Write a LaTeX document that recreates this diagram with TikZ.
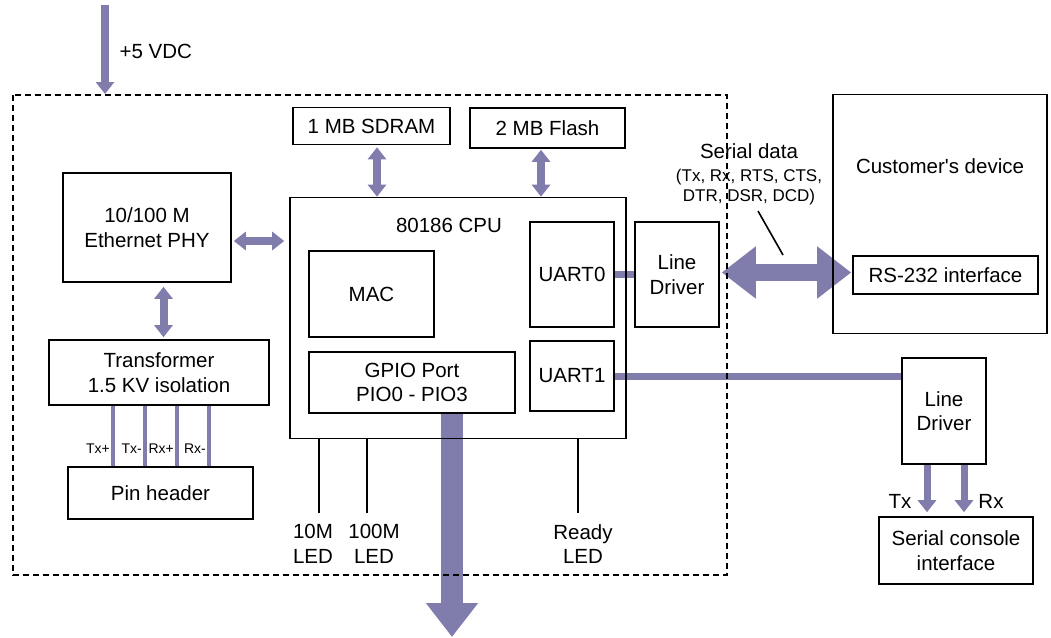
\documentclass[tikz,border=0pt]{standalone}
\usepackage{fontspec}
\setmainfont{Liberation Sans}
\usetikzlibrary{arrows.meta}
\usetikzlibrary{positioning}
\usetikzlibrary{backgrounds}
\definecolor{buscolor}{RGB}{128,124,172}

\begin{document}
\begin{tikzpicture}[x=1pt, y=-1pt, font=\fontsize{20.5}{24.5}\selectfont,
    box/.style={draw, line width=1.6pt, inner sep=0pt, align=center},
    bus/.style={buscolor, line width=8pt, {Triangle[width=18pt,length=12pt]}-{Triangle[width=18pt,length=12pt]}},
    busout/.style={buscolor, line width=8pt, -{Triangle[width=18pt,length=12pt]}},
    link/.style={buscolor, line width=7pt},
    pinwire/.style={buscolor, line width=4.5pt},
    pinlbl/.style={font=\fontsize{14}{16}\selectfont, inner sep=0pt, anchor=east},
    ledwire/.style={line width=1.6pt}
]
    \useasboundingbox (0,0) rectangle (1051,637);

    % ---- Notes ----
    % pixel coordinates, y pointing down

    % Memory
    \node [box, minimum width=157, minimum height=37] (sdram) at (371.5,126) {1 MB SDRAM};
    \node [box, minimum width=155, minimum height=40] (flash) at (547.5,128) {2 MB Flash};

    % CPU and its blocks
    \node [box, minimum width=336, minimum height=241] (cpu) at (458,318) {};
    \node (cpulbl) at (449,225) {80186 CPU};
    \node [box, minimum width=125, minimum height=86] (mac) at (371.5,294) {MAC};
    \node [box, minimum width=84, minimum height=105] (uart0) at (572,274.5) {UART0};
    \node [box, minimum width=84, minimum height=70] (uart1) at (572,376) {UART1};
    \node [box, minimum width=206, minimum height=61] (gpio) at (412,382.5) {GPIO Port\\PIO0 - PIO3};

    % Ethernet side
    \node [box, minimum width=168, minimum height=109] (phy) at (147,227.5) {10/100 M\\Ethernet PHY};
    \node [box, minimum width=220, minimum height=65] (xfmr) at (159,372.5) {Transformer\\1.5 KV isolation};
    \node [box, minimum width=185, minimum height=52] (pins) at (160.5,493) {Pin header};

    % Serial side
    \node [box, minimum width=84, minimum height=105] (ldzero) at (677,274.5) {Line\\Driver};
    \node [box, minimum width=214, minimum height=239] (cust) at (940,214) {};
    \node (custlbl) at (940,166) {Customer\textquotesingle s device};
    \node [box, minimum width=185, minimum height=38] (rs) at (945.5,275) {RS-232 interface};
    \node [box, minimum width=84, minimum height=106] (ldone) at (944,411) {Line\\Driver};
    \node [box, minimum width=154, minimum height=67] (console) at (956,550.5) {Serial console\\interface};

    \node (serlbl) at (749,151) {Serial data};
    \node [align=center, font=\fontsize{17}{20}\selectfont] (serlist) at (749,187) {(Tx, Rx, RTS, CTS,\\DTR, DSR, DCD)};
    \coordinate (sertop) at (758,211);
    \coordinate (serbot) at (783,255);
    \draw [line width=1.6pt] (sertop) -- (serbot);

    % Power
    \coordinate (vdctop) at (105,5);
    \coordinate (vdcend) at (105,94);
    \node [anchor=west] (vdclbl) at (116,51) {+5 VDC};

    % LEDs
    \node [align=center] (ledten) at (313,544) {10M\\LED};
    \node [align=center] (ledhun) at (374,544) {100M\\LED};
    \node [align=center] (ledrdy) at (583,544) {Ready\\LED};
    \coordinate (ledtenend) at (319,513);
    \coordinate (ledhunend) at (367,513);
    \coordinate (ledrdyend) at (578,513);
    \draw [ledwire] (cpu.south -| ledtenend) -- (ledtenend);
    \draw [ledwire] (cpu.south -| ledhunend) -- (ledhunend);
    \draw [ledwire] (cpu.south -| ledrdyend) -- (ledrdyend);

    % Tx / Rx labels
    \node (txlbl) at (900,501) {Tx};
    \node (rxlbl) at (991,501) {Rx};

    % Connectors
    \begin{pgfonlayer}{background}
        \draw [busout] (vdctop) -- (vdcend);
        \draw [bus, shorten <=2pt] ([xshift=5.5pt]sdram.south) -- ([xshift=5.5pt]sdram.south |- cpu.north);
        \draw [bus, shorten <=1pt] ([xshift=-6.5pt]flash.south) -- ([xshift=-6.5pt]flash.south |- cpu.north);
        \draw [bus, shorten <=2pt, shorten >=5pt] ([yshift=-13.5pt]phy.east) -- ([yshift=-13.5pt]phy.east -| cpu.west);
        \draw [bus, shorten <=2pt, shorten >=4pt] ([xshift=4.5pt]xfmr.north) -- ([xshift=4.5pt]xfmr.north |- phy.south);

        % pin wires
        \foreach \px/\plbl in {113/Tx+, 145/Tx-, 177/Rx+, 209/Rx-} {
            \coordinate (pin) at (\px,0);
            \draw [pinwire] (xfmr.south -| pin) -- (pins.north -| pin);
            \node [pinlbl] at (\px-3,449) {\plbl};
        }

        % GPIO out
        \coordinate (gpiotip) at (452,637);
        \draw [buscolor, line width=22pt, -{Triangle[width=50pt,length=34pt]}] (gpio.south -| gpiotip) -- (gpiotip);

        % UARTs
        \draw [link] (uart0.east) -- (uart0.east -| ldzero.west);
        \draw [buscolor, line width=17pt, {Triangle[width=50pt,length=34pt]}-{Triangle[width=50pt,length=34pt]}, shorten <=2pt, shorten >=1pt]
            ([yshift=2pt]ldzero.east) -- ([yshift=2pt]ldzero.east -| rs.west);
        \draw [link] (uart1.east) -- (uart1.east -| ldone.west);
        \draw [busout, line width=7pt, shorten >=4pt] ([xshift=-17pt]ldone.south) -- ([xshift=-17pt]ldone.south |- console.north);
        \draw [busout, line width=7pt, shorten >=4pt] ([xshift=20pt]ldone.south) -- ([xshift=20pt]ldone.south |- console.north);
    \end{pgfonlayer}

    % Module outline
    \draw [line width=2pt, dash pattern=on 6pt off 4pt] (13,95) rectangle (727,575);

\end{tikzpicture}
\end{document}
